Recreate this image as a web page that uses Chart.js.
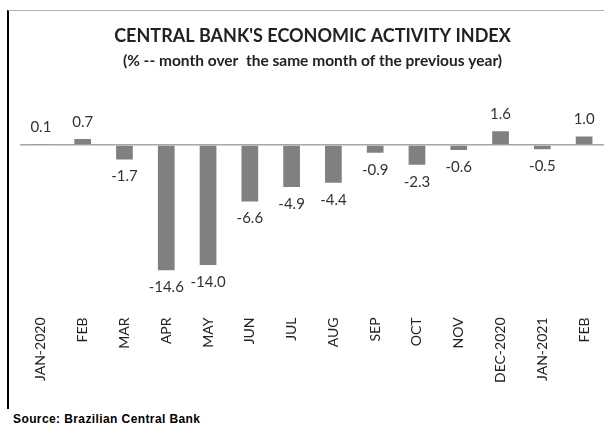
<!DOCTYPE html>
<html>
<head>
<meta charset="utf-8">
<script src="https://cdn.jsdelivr.net/npm/chart.js@4.4.1/dist/chart.umd.min.js"></script>
<style>
  html, body { margin: 0; padding: 0; background: #fff; }
  body { width: 604px; height: 425px; position: relative; overflow: hidden; }
  #frame {
    position: absolute; left: 7px; top: 10px; width: 596px; height: 398px;
    border-left: 2px solid #000; border-top: 1px solid #b0b0b0;
  }
  #source {
    position: absolute; left: 13px; top: 412px;
    font: bold 12px "Liberation Sans", Arial, sans-serif; color: #000;
    letter-spacing: 0.4px;
  }
</style>
</head>
<body>
<div id="frame"><canvas id="activityChart"></canvas></div>
<div id="source">Source: Brazilian Central Bank</div>
<script>
const months = ["JAN-2020", "FEB", "MAR", "APR", "MAY", "JUN", "JUL", "AUG",
                "SEP", "OCT", "NOV", "DEC-2020", "JAN-2021", "FEB"];
const activityValues = [0.1, 0.7, -1.7, -14.6, -14.0, -6.6, -4.9, -4.4,
                        -0.9, -2.3, -0.6, 1.6, -0.5, 1.0];

const canvas = document.getElementById("activityChart");
canvas.width = 596;
canvas.height = 398;

// value labels above / below each bar
const valueLabels = {
    id: "valueLabels",
    afterDatasetsDraw(chart) {
        const ctx = chart.ctx;
        const meta = chart.getDatasetMeta(0);
        ctx.save();
        ctx.font = "15px Lato, sans-serif";
        ctx.fillStyle = "#333";
        ctx.textAlign = "center";
        ctx.textBaseline = "middle";
        meta.data.forEach((bar, i) => {
            const v = activityValues[i];
            const y = v >= 0 ? bar.y - 17 : bar.y + 17;
            ctx.fillText(v.toFixed(1), bar.x, y);
        });
        ctx.restore();
    }
};

new Chart(canvas.getContext("2d"), {
    type: "bar",
    data: {
        labels: months,
        datasets: [{
            data: activityValues,
            backgroundColor: "#808080",
            barPercentage: 0.4,
            categoryPercentage: 1.0
        }]
    },
    options: {
        responsive: false,
        animation: false,
        layout: { padding: { left: 11, right: 0, top: 0, bottom: 22 } },
        plugins: {
            legend: { display: false },
            tooltip: { enabled: false },
            title: {
                display: true,
                text: "CENTRAL BANK'S ECONOMIC ACTIVITY INDEX",
                color: "#222",
                font: { family: "Lato", size: 18, weight: "bold" },
                padding: { top: 14, bottom: 4 }
            },
            subtitle: {
                display: true,
                text: "(% -- month over  the same month of the previous year)",
                color: "#222",
                font: { family: "Lato", size: 15.5, weight: "bold" },
                padding: { top: 1, bottom: 25 }
            }
        },
        scales: {
            x: {
                grid: { display: false },
                border: { display: false },
                ticks: {
                    color: "#222",
                    font: { family: "Lato", size: 14 },
                    minRotation: 90,
                    maxRotation: 90,
                    autoSkip: false,
                    padding: 4
                }
            },
            y: {
                min: -18.7,
                max: 5.8,
                ticks: { display: false, stepSize: 1 },
                border: { display: false },
                grid: {
                    drawTicks: false,
                    color: ctx => ctx.tick && ctx.tick.value === 0 ? "#a6a6a6" : "transparent",
                    lineWidth: 1.5
                }
            }
        }
    },
    plugins: [valueLabels]
});
</script>
</body>
</html>
